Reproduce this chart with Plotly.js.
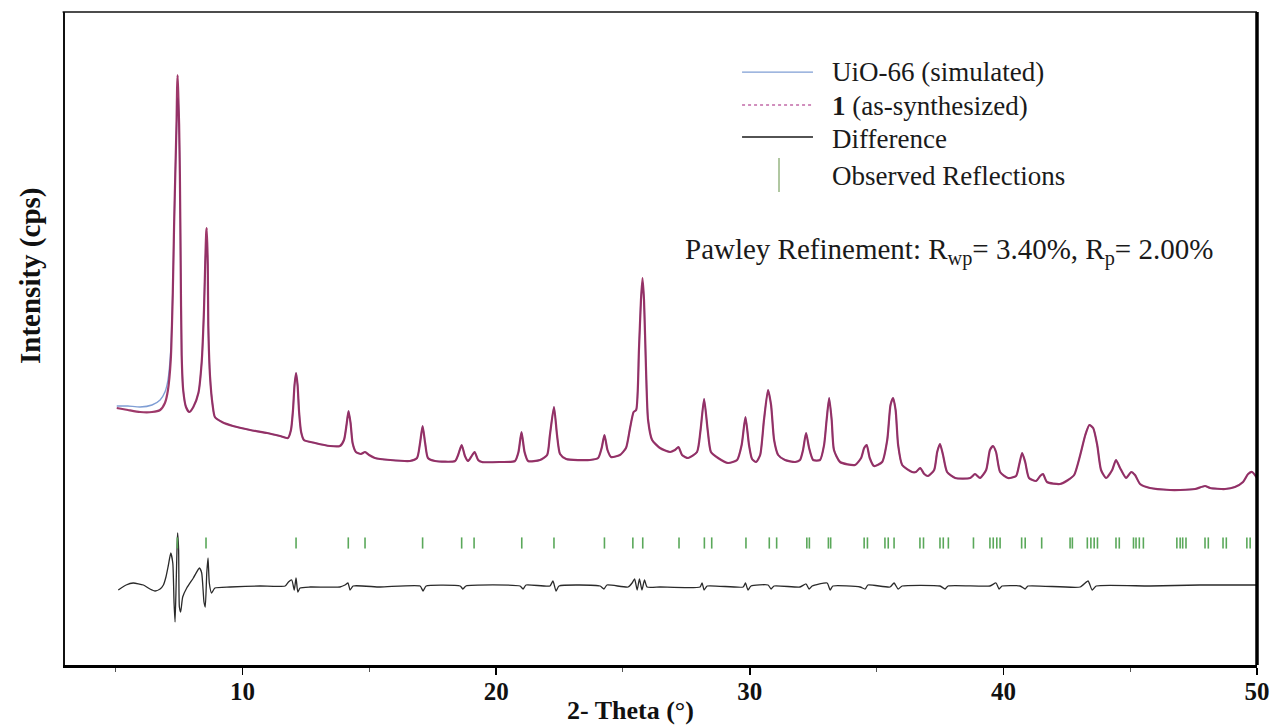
<!DOCTYPE html>
<html>
<head>
<meta charset="utf-8">
<script src="https://cdn.plot.ly/plotly-3.0.1.min.js"></script>
<style>
  html, body { margin: 0; padding: 0; background: #ffffff; }
  #chart { width: 1275px; height: 726px; }
</style>
</head>
<body>
<div id="chart"></div>
<script>
// Powder pattern of UiO-66: observed data, Pawley-fitted profile, difference and reflection positions.

// 2-theta positions (degrees) of the sampled profile
const twoTheta = [5.04,5.48,5.96,6.43,6.75,6.94,7.06,7.17,7.25,7.30,7.35,7.40,7.42,7.44,7.47,7.50,7.53,7.56,7.60,7.66,
  7.77,7.90,8.06,8.26,8.39,8.48,8.53,8.57,8.59,8.63,8.65,8.72,8.82,8.91,9.19,9.62,10.30,10.97,11.48,11.79,
  11.91,11.99,12.05,12.11,12.17,12.23,12.31,12.42,12.86,13.45,13.84,14.00,14.10,14.18,14.26,14.34,14.47,14.67,14.83,14.99,
  15.22,15.82,16.60,16.88,17.00,17.10,17.20,17.31,17.59,18.38,18.50,18.64,18.77,18.89,19.01,19.15,19.29,19.44,20.15,20.74,
  20.88,21.00,21.12,21.26,21.73,22.01,22.12,22.28,22.40,22.52,22.76,23.70,24.02,24.16,24.27,24.39,24.53,24.88,25.12,25.28,
  25.42,25.52,25.63,25.71,25.77,25.83,25.91,25.99,26.15,26.46,26.86,27.05,27.19,27.33,27.57,27.92,28.06,28.20,28.34,28.47,
  28.75,29.14,29.50,29.68,29.83,29.97,30.09,30.25,30.41,30.56,30.72,30.84,30.96,31.12,31.39,31.79,31.98,32.10,32.22,32.34,
  32.50,32.77,32.93,33.03,33.13,33.23,33.32,33.56,34.15,34.39,34.51,34.61,34.73,34.90,35.22,35.42,35.55,35.65,35.75,35.85,
  36.01,36.40,36.55,36.72,36.88,37.03,37.27,37.39,37.50,37.62,37.78,38.10,38.69,38.88,39.08,39.32,39.47,39.59,39.71,39.87,
  40.18,40.50,40.62,40.74,40.86,41.01,41.29,41.45,41.56,41.72,42.23,42.55,42.79,43.03,43.23,43.39,43.54,43.70,43.85,44.05,
  44.29,44.44,44.60,44.84,45.04,45.19,45.39,45.78,46.57,46.97,47.56,47.95,48.15,48.74,49.13,49.45,49.65,49.81,50.00];

// as-synthesized sample, counts
const obsCounts = [1780,1760,1740,1740,1760,1830,1960,2260,2930,3590,4130,4660,4980,5110,4880,4610,4110,3260,2310,1960,
  1790,1740,1790,1930,2240,2760,3240,3540,3580,3210,2610,2090,1810,1690,1640,1600,1560,1530,1500,1480,
  1560,1760,2010,2130,2010,1740,1540,1460,1430,1400,1400,1460,1610,1750,1630,1430,1340,1320,1340,1310,
  1280,1260,1250,1280,1430,1600,1430,1280,1250,1250,1310,1410,1300,1250,1290,1340,1260,1240,1240,1250,
  1340,1540,1340,1250,1260,1310,1510,1790,1510,1320,1270,1260,1280,1380,1510,1360,1290,1310,1380,1580,
  1740,1760,2360,2860,3080,2860,2160,1660,1460,1380,1340,1360,1390,1310,1280,1340,1560,1870,1560,1340,
  1280,1230,1260,1410,1690,1410,1270,1240,1310,1660,1960,1810,1460,1310,1260,1240,1260,1360,1530,1380,
  1260,1260,1410,1660,1880,1660,1360,1240,1210,1280,1380,1410,1280,1200,1240,1460,1810,1880,1760,1410,
  1210,1140,1140,1180,1120,1100,1160,1340,1420,1310,1140,1080,1080,1120,1080,1160,1360,1400,1340,1140,
  1080,1100,1210,1330,1240,1080,1050,1100,1120,1040,1020,1060,1110,1310,1510,1610,1580,1410,1160,1080,
  1160,1260,1180,1080,1140,1110,1020,980,960,960,970,1000,980,970,990,1040,1120,1140,1080];

// simulated UiO-66 profile, counts
const simCounts = [1800,1800,1790,1810,1860,1940,2060,2360,2960,3590,4130,4610,4820,4880,4820,4580,4110,3260,2310,1960,
  1790,1740,1790,1930,2240,2760,3240,3410,3460,3180,2610,2090,1810,1690,1640,1600,1560,1530,1500,1480,
  1560,1760,2010,2130,2010,1740,1540,1460,1430,1400,1400,1460,1610,1750,1630,1430,1340,1320,1340,1310,
  1280,1260,1250,1280,1430,1600,1430,1280,1250,1250,1310,1410,1300,1250,1290,1340,1260,1240,1240,1250,
  1340,1540,1340,1250,1260,1310,1510,1790,1510,1320,1270,1260,1280,1380,1510,1360,1290,1310,1380,1580,
  1740,1760,2360,2860,3040,2860,2160,1660,1460,1380,1340,1360,1390,1310,1280,1340,1560,1870,1560,1340,
  1280,1230,1260,1410,1690,1410,1270,1240,1310,1660,1960,1810,1460,1310,1260,1240,1260,1360,1530,1380,
  1260,1260,1410,1660,1880,1660,1360,1240,1210,1280,1380,1410,1280,1200,1240,1460,1810,1880,1760,1410,
  1210,1140,1140,1180,1120,1100,1160,1340,1420,1310,1140,1080,1080,1120,1080,1160,1360,1400,1340,1140,
  1080,1100,1210,1330,1240,1080,1050,1100,1120,1040,1020,1060,1110,1310,1510,1610,1580,1410,1160,1080,
  1160,1260,1180,1080,1140,1110,1020,980,960,960,970,1000,980,970,990,1040,1120,1140,1080];

// difference curve (observed - calculated), plotted around zero
const diffTheta = [5.10,5.41,5.69,6.09,6.35,6.55,6.75,6.88,6.98,7.07,7.17,7.25,7.30,7.34,7.38,7.42,7.44,7.48,7.51,7.56,
  7.64,7.80,8.06,8.30,8.39,8.48,8.53,8.59,8.64,8.69,8.78,8.91,9.51,10.69,11.68,11.81,11.94,12.04,12.11,12.18,
  12.27,12.66,13.84,14.04,14.16,14.24,14.36,15.42,17.00,17.12,17.24,18.58,18.69,18.81,20.94,21.06,21.18,22.12,22.24,22.36,
  22.48,24.10,24.25,24.37,25.20,25.36,25.46,25.56,25.65,25.75,25.85,25.95,26.46,28.04,28.12,28.20,28.32,29.74,29.83,29.93,
  30.05,30.72,30.84,30.96,31.98,32.22,32.34,32.46,33.05,33.17,33.28,34.35,34.55,34.66,35.53,35.69,35.85,36.01,37.50,37.70,
  37.82,39.47,39.71,39.83,39.95,40.66,40.86,40.97,43.03,43.34,43.50,43.66,45.78,47.75,50.00];
const diffCounts = [-40,10,30,10,-30,-50,-30,10,90,200,330,230,-170,-360,-10,410,530,360,-210,-260,
  -110,-20,80,180,130,-160,-210,130,280,30,-70,-20,-10,0,0,40,60,-40,80,-60,
  -20,-10,-10,10,30,-40,0,-10,0,-50,0,0,-30,0,0,-30,10,0,50,-50,
  0,0,-30,10,-10,30,70,-40,70,-40,60,-10,-10,-10,30,-40,0,-10,30,-40,
  0,10,-30,0,-10,20,-30,0,30,-40,0,-10,-30,10,-10,30,-30,0,0,-30,
  0,0,30,-30,0,0,-30,0,-10,50,-40,0,0,10,10];

// positions of the observed reflections (degrees 2-theta)
const reflections = [7.43,8.56,12.11,14.17,14.83,17.10,18.64,19.13,21.01,22.28,24.27,25.39,25.78,27.21,28.21,28.50,
  29.85,30.77,31.06,32.25,32.35,33.10,33.19,34.51,34.64,35.33,35.46,35.69,36.71,36.85,37.50,37.63,37.83,38.82,
  39.47,39.60,39.74,39.87,40.72,40.86,41.51,42.63,42.72,43.31,43.45,43.58,43.71,44.44,44.57,45.13,45.23,45.36,45.52,
  46.84,46.97,47.07,47.20,47.95,48.08,48.66,48.79,49.60,49.73];
const reflectionLevel = 430;   // counts level at which the reflection markers sit

const serif = 'Liberation Serif, Times New Roman, serif';

const traces = [
  {
    x: twoTheta, y: simCounts, type: 'scatter', mode: 'lines',
    name: 'UiO-66 (simulated)',
    line: { color: '#7f9ed4', width: 1.4, shape: 'spline', smoothing: 0.6 }
  },
  {
    x: twoTheta, y: obsCounts, type: 'scatter', mode: 'lines',
    name: '1 (as-synthesized)',
    line: { color: '#93235a', width: 2.2, shape: 'spline', smoothing: 0.6 },
    opacity: 0.9
  },
  {
    x: diffTheta, y: diffCounts, type: 'scatter', mode: 'lines',
    name: 'Difference',
    line: { color: '#2a2a2a', width: 1.3, shape: 'spline', smoothing: 0.5 }
  },
  {
    x: reflections, y: reflections.map(() => reflectionLevel), type: 'scatter', mode: 'markers',
    name: 'Observed Reflections',
    marker: { symbol: 'line-ns', size: 8, line: { color: '#5aa85a', width: 1.6 } }
  }
];

// legend drawn as line samples plus text rows
const legendRows = [
  { text: 'UiO-66 (simulated)', y: 0.908 },
  { text: '<b>1</b> (as-synthesized)', y: 0.856 },
  { text: 'Difference', y: 0.8055 },
  { text: 'Observed Reflections', y: 0.749 }
];

const annotations = legendRows.map(r => ({
  xref: 'paper', yref: 'paper', x: 0.6418, y: r.y, xanchor: 'left', yanchor: 'middle',
  text: r.text, showarrow: false, font: { family: serif, size: 27, color: '#1a1a1a' }
}));

annotations.push({
  xref: 'paper', yref: 'paper', x: 0.5185, y: 0.6325, xanchor: 'left', yanchor: 'middle',
  text: 'Pawley Refinement: R<sub>wp</sub>= 3.40%, R<sub>p</sub>= 2.00%',
  showarrow: false, font: { family: serif, size: 29, color: '#1a1a1a' }
});

annotations.push({
  xref: 'paper', yref: 'paper', x: -0.0294, y: 0.5957, xanchor: 'center', yanchor: 'middle',
  text: 'Intensity (cps)', textangle: -90, showarrow: false,
  font: { family: serif, size: 29, color: '#111111', weight: 'bold' }
});

annotations.push({
  xref: 'paper', yref: 'paper', x: 0.4748, y: -0.069, xanchor: 'center', yanchor: 'middle',
  text: '2- Theta (°)', showarrow: false,
  font: { family: serif, size: 26, color: '#111111', weight: 'bold' }
});

const shapes = [
  // legend samples
  { type: 'line', xref: 'paper', yref: 'paper', x0: 0.568, x1: 0.6275, y0: 0.908, y1: 0.908,
    line: { color: '#7f9ed4', width: 1.4 } },
  { type: 'line', xref: 'paper', yref: 'paper', x0: 0.568, x1: 0.6275, y0: 0.8576, y1: 0.8576,
    line: { color: '#c26aa8', width: 1.3, dash: 'dot' } },
  { type: 'line', xref: 'paper', yref: 'paper', x0: 0.568, x1: 0.6275, y0: 0.8086, y1: 0.8086,
    line: { color: '#1a1a1a', width: 1.4 } },
  { type: 'line', xref: 'paper', yref: 'paper', x0: 0.599, x1: 0.599, y0: 0.7243, y1: 0.7764,
    line: { color: '#8fb07a', width: 1.4 } },
  // frame: top and right edges
  { type: 'line', xref: 'paper', yref: 'paper', x0: -0.002, x1: 1, y0: 1, y1: 1,
    line: { color: '#111111', width: 1.6 } },
  { type: 'line', xref: 'paper', yref: 'paper', x0: 1, x1: 1, y0: 0, y1: 1,
    line: { color: '#000000', width: 3.5 } }
];

const layout = {
  width: 1275, height: 726,
  margin: { l: 65, r: 18, t: 12, b: 61 },
  paper_bgcolor: '#ffffff', plot_bgcolor: '#ffffff',
  showlegend: false,
  xaxis: {
    range: [3, 50], tickvals: [10, 20, 30, 40, 50], ticktext: ['10', '20', '30', '40', '50'],
    ticks: 'outside', ticklen: 7, tickwidth: 1.5, tickcolor: '#000000',
    ticklabelstandoff: -5,
    minor: { tickvals: [5, 15, 25, 35, 45], ticks: 'outside', ticklen: 4, tickwidth: 1, tickcolor: '#555555' },
    showline: true, linewidth: 3, linecolor: '#000000',
    showgrid: false, zeroline: false,
    tickfont: { family: serif, size: 25, color: '#111111', weight: 'bold' }
  },
  yaxis: {
    range: [-790, 5740], showticklabels: false, ticks: '',
    showline: true, linewidth: 2, linecolor: '#111111',
    showgrid: false, zeroline: false
  },
  annotations: annotations,
  shapes: shapes
};

Plotly.newPlot('chart', traces, layout, { displayModeBar: false, staticPlot: true });
</script>
</body>
</html>
